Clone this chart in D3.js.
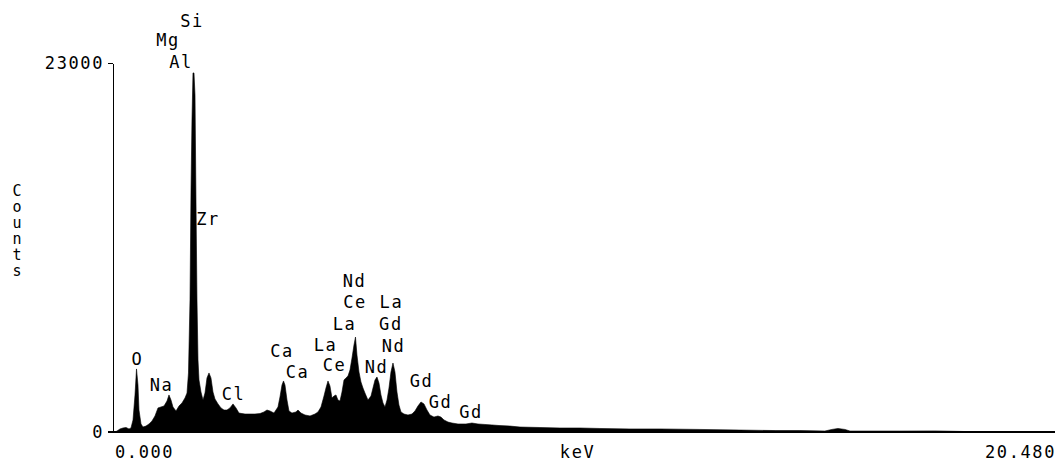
<!DOCTYPE html>
<html>
<head>
<meta charset="utf-8">
<script src="https://cdn.jsdelivr.net/npm/d3@7"></script>
<style>
  html, body { margin: 0; padding: 0; background: #fff; }
  svg text { font-family: "DejaVu Sans Mono", "Liberation Mono", monospace; font-size: 17px; fill: #000; letter-spacing: 1.6px; }
  svg text.yt { font-size: 15px; letter-spacing: 0; }
</style>
</head>
<body>
<svg id="chart" width="1060" height="466"></svg>
<script>
// Spectrum (energy in keV, counts)
const energy = [0.043,0.087,0.152,0.217,0.283,0.348,0.391,0.435,0.478,0.511,0.543,0.565,0.609,0.652,0.717,0.783,0.848,0.913,0.978,1.043,1.109,1.174,1.217,1.261,1.304,1.370,1.435,1.500,1.565,1.609,1.641,1.674,1.696,1.717,1.739,1.761,1.783,1.804,1.826,1.848,1.870,1.913,1.957,2.000,2.043,2.087,2.130,2.174,2.217,2.283,2.348,2.413,2.478,2.543,2.609,2.674,2.739,2.870,2.978,3.087,3.196,3.283,3.348,3.413,3.500,3.587,3.630,3.674,3.707,3.739,3.783,3.826,3.891,3.978,4.022,4.087,4.174,4.283,4.391,4.457,4.522,4.587,4.630,4.674,4.717,4.761,4.804,4.848,4.891,4.935,4.978,5.022,5.065,5.109,5.152,5.196,5.239,5.272,5.304,5.348,5.391,5.435,5.478,5.543,5.609,5.652,5.696,5.739,5.783,5.826,5.870,5.913,5.957,6.000,6.043,6.087,6.130,6.174,6.217,6.261,6.326,6.413,6.500,6.565,6.630,6.696,6.761,6.826,6.891,6.978,7.065,7.130,7.196,7.283,7.370,7.500,7.674,7.804,7.935,8.087,8.239,8.413,8.630,8.848,9.283,9.717,10.152,10.587,11.239,11.891,12.761,13.630,14.413,14.935,15.478,15.630,15.761,15.913,16.022,17.109,17.870,18.522,19.283,20.480];
const counts = [0,60,190,250,280,190,250,750,2300,3930,2930,1370,500,310,370,500,690,1000,1500,1560,1620,1930,2310,1990,1560,1310,1620,1810,2120,2430,3680,8230,15080,19450,22380,22380,21000,14460,8230,4490,3240,2490,1990,2430,3370,3680,3370,2490,2060,1750,1500,1370,1370,1500,1750,1500,1180,1120,1120,1120,1150,1250,1370,1310,1180,1560,2180,2930,3180,2930,1990,1310,1180,1250,1370,1180,1060,1000,1120,1250,1560,2240,2740,3180,2870,2120,2240,2310,1990,1930,2490,3240,3370,3490,3860,4610,5420,5920,4800,3740,3120,2740,2430,1990,2240,2740,3240,3430,3050,2310,1810,1560,1990,2740,3740,4300,3740,2490,1680,1250,1120,1060,1120,1310,1620,1870,1750,1370,1060,930,1000,930,750,620,560,500,500,560,500,470,440,400,370,310,280,250,250,220,190,190,160,120,90,90,60,160,220,160,60,60,70,30,0,0];

// Peak labels (text, energy keV, baseline in counts)
const peakLabels = ["Si","Mg","Al","Zr","O","Na","Cl","Ca","Ca","La","Ce","La","Ce","Nd","La","Gd","Nd","Nd","Gd","Gd","Gd"];
const peakEnergy = [1.717,1.196,1.478,2.065,0.533,1.054,2.620,3.674,4.011,4.620,4.815,5.033,5.261,5.250,6.054,6.043,6.098,5.728,6.707,7.120,7.783];
const peakHeight = [25240,24060,22690,12900,4180,2560,1990,4670,3370,5050,3800,6360,7730,9040,7730,6360,4990,3680,2800,1500,870];

// Axis ticks
const yTickValues = [0, 23000];
const xTickValues = [0, 20.48];
const xTickLabels = ["0.000", "20.480"];
const xTitle = "keV";
const yTitle = "Counts";

const svg = d3.select("#chart");
const x = d3.scaleLinear().domain([0, 20.48]).range([113, 1055]);
const y = d3.scaleLinear().domain([0, 23000]).range([432, 63]);

const pts = energy.map((e, i) => [e, counts[i]]);
const area = d3.area().x(d => x(d[0])).y0(y(0)).y1(d => y(d[1])).curve(d3.curveLinear);
svg.append("path").datum(pts).attr("d", area).attr("fill", "#000").attr("stroke", "#000").attr("stroke-width", 0.6);

// Y axis
const yAxis = d3.axisLeft(y).tickValues(yTickValues).tickFormat(d3.format("d")).tickSize(5).tickSizeOuter(0).tickPadding(4);
const gy = svg.append("g").attr("transform", `translate(${x(0)},0)`).call(yAxis);
gy.selectAll("path, line").attr("stroke", "#000").attr("stroke-width", 1.2).attr("shape-rendering", "crispEdges");
gy.selectAll("text").attr("font-family", null).attr("font-size", null).attr("fill", "#000");

// X axis line
svg.append("line").attr("x1", x(0) - 5).attr("x2", x(20.48)).attr("y1", y(0)).attr("y2", y(0))
  .attr("stroke", "#000").attr("stroke-width", 1.2).attr("shape-rendering", "crispEdges");

// X tick labels
svg.selectAll("text.xt").data(xTickValues).enter().append("text").attr("class", "xt")
  .attr("x", (d, i) => i === 0 ? x(d) + 2 : x(d) + 1)
  .attr("y", y(0) + 26)
  .attr("text-anchor", (d, i) => i === 0 ? "start" : "end")
  .text((d, i) => xTickLabels[i]);

svg.append("text").attr("x", x(10.1)).attr("y", y(0) + 26).attr("text-anchor", "middle").text(xTitle);

// Y title stacked
svg.selectAll("text.yt").data(yTitle.split("")).enter().append("text").attr("class", "yt")
  .attr("x", 17).attr("y", (d, i) => 196 + i * 16).attr("text-anchor", "middle").text(d => d);

// Peak labels
svg.selectAll("text.pk").data(peakLabels).enter().append("text").attr("class", "pk")
  .attr("x", (d, i) => x(peakEnergy[i]))
  .attr("y", (d, i) => y(peakHeight[i]))
  .attr("text-anchor", "middle").text(d => d);
</script>
</body>
</html>
